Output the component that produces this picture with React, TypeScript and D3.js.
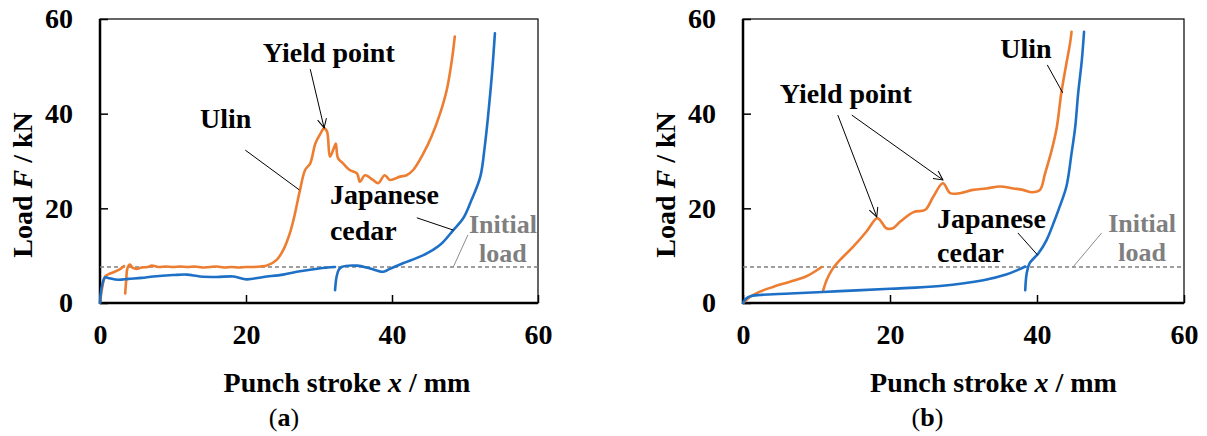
import { useEffect, useRef } from "react";
import * as d3 from "d3";

type Pt = [number, number];

const W = 1207;
const H = 436;
const FONT = '"Liberation Serif", "Times New Roman", serif';
const ORANGE = "#ED7D31";
const BLUE = "#1D70C6";
const GRAY = "#7F7F7F";

const xTicks = [0, 20, 40, 60];
const yTicks = [0, 20, 40, 60];
const initialLoad = 7.6;

// (a) Ulin, two segments (reloaded after the first stroke)
const ulinA1: Pt[] = [[0, 0], [0.3, 3.2], [0.7, 5.6], [1.2, 6.1], [2.0, 6.6], [2.7, 7.1], [3.3, 7.8]];
const ulinA2: Pt[] = [
	[3.45, 2.0], [3.6, 5.0], [3.75, 7.3], [4.1, 8.1], [4.5, 7.4], [5.0, 7.2], [5.7, 7.5], [6.5, 7.6],
	[7.1, 7.9], [8, 7.6], [9, 7.7], [10, 7.6], [11, 7.7], [12, 7.6], [13, 7.7], [14, 7.5], [15, 7.6],
	[16, 7.7], [17, 7.5], [18, 7.6], [19, 7.5], [20, 7.6], [21, 7.6], [22, 7.7], [23, 8.0],
	[24.2, 9.1], [25.2, 11.5], [26.0, 14.7], [26.5, 17.5], [26.9, 20.3], [27.4, 23.9], [28.1, 28.1],
	[28.8, 29.5], [29.5, 33.7], [30.1, 35.5], [30.7, 36.9], [31.1, 36.2], [31.5, 30.9], [32.1, 33.0],
	[32.3, 33.7], [32.6, 30.6], [33.3, 29.5], [34.2, 28.1], [35.2, 27.4], [35.6, 25.6], [36.3, 27.0],
	[37.4, 26.0], [38.1, 25.3], [39.0, 27.0], [39.7, 26.0], [41.1, 26.7], [42.0, 27.0], [42.9, 28.1],
	[44.3, 31.6], [45.4, 35.1], [46.6, 40.1], [47.5, 45.0], [48.2, 51.3], [48.6, 56.3],
];
// (a) Japanese cedar
const cedarA1: Pt[] = [
	[0, 0], [0.25, 3.5], [0.7, 5.4], [1.1, 5.3], [2.5, 4.9], [3.9, 5.1], [5.7, 5.3], [7.3, 5.6],
	[10.0, 5.9], [11.9, 6.0], [13.7, 5.6], [16.0, 5.5], [18.3, 5.6], [20.1, 5.0], [22.4, 5.5],
	[25.1, 6.0], [27.4, 6.7], [30, 7.3], [32.2, 7.6],
];
const cedarA2: Pt[] = [
	[32.2, 2.7], [32.4, 5.5], [32.7, 7.0], [33.1, 7.6], [35.2, 7.9], [37.0, 7.3], [38.8, 6.6],
	[39.7, 7.2], [41.5, 8.4], [44.3, 10.1], [46.6, 12.3], [48.4, 15.4], [49.8, 18.0], [50.9, 21.8],
	[52.1, 26.7], [52.7, 33.0], [53.2, 40.1], [53.7, 48.5], [54.1, 57.0],
];

// (b) Ulin
const ulinB1: Pt[] = [[0, 0], [0.95, 1.3], [2.3, 2.4], [4.1, 3.4], [6.4, 4.5], [8.7, 5.7], [10.7, 7.6]];
const ulinB2: Pt[] = [
	[10.9, 2.6], [11.4, 4.9], [12.1, 7.0], [13.2, 9.1], [15.0, 11.9], [16.8, 15.1], [18.2, 17.9],
	[18.6, 17.6], [19.5, 15.8], [20.4, 15.8], [21.4, 17.2], [23.2, 19.2], [24.8, 19.7], [25.9, 22.5],
	[27.2, 25.3], [28.2, 23.2], [29.5, 23.2], [31.3, 23.9], [33.1, 24.2], [35.0, 24.6], [36.8, 24.2],
	[38.1, 23.9], [39.3, 23.4], [40.4, 23.9], [41.1, 27.4], [42.0, 32.3], [42.7, 37.2], [43.3, 44.3],
	[44.0, 50.6], [44.5, 54.9], [44.7, 57.3],
];
// (b) Japanese cedar
const cedarB1: Pt[] = [
	[0, 0], [0.4, 0.9], [0.95, 1.4], [2.3, 1.7], [6.4, 2.0], [13.2, 2.5], [20.0, 3.0], [26.8, 3.6],
	[32.7, 4.8], [35.8, 6.0], [37.4, 7.0], [38.4, 7.7],
];
const cedarB2: Pt[] = [
	[38.4, 2.7], [38.6, 6.3], [39.0, 8.4], [40.2, 10.5], [41.3, 13.3], [42.4, 17.5], [43.0, 20.0],
	[44.0, 24.6], [44.7, 31.6], [45.2, 37.2], [45.6, 44.3], [46.1, 51.3], [46.4, 57.3],
];

type Label = { text: string; x: number; y: number; anchor?: string; gray?: boolean };
type Seg = { from: Pt; to: Pt; arrow?: boolean; gray?: boolean };

const labelsA: Label[] = [
	{ text: "Yield point", x: 22.3, y: 50.9 },
	{ text: "Ulin", x: 13.7, y: 37.0 },
	{ text: "Japanese", x: 31.5, y: 20.9 },
	{ text: "cedar", x: 31.5, y: 13.3 },
	{ text: "Initial", x: 55.2, y: 14.8, anchor: "middle", gray: true },
	{ text: "load", x: 55.2, y: 8.7, anchor: "middle", gray: true },
];
const leadersA: Seg[] = [
	{ from: [28.8, 49.4], to: [30.7, 37.0], arrow: true },
	{ from: [19.9, 32.3], to: [27.3, 23.9] },
	{ from: [43.4, 18.0], to: [48.4, 15.4] },
	{ from: [50.4, 14.4], to: [48.4, initialLoad], gray: true },
];
const labelsB: Label[] = [
	{ text: "Yield point", x: 5.0, y: 42.3 },
	{ text: "Ulin", x: 35.0, y: 51.8 },
	{ text: "Japanese", x: 26.4, y: 15.8 },
	{ text: "cedar", x: 26.4, y: 8.7 },
	{ text: "Initial", x: 54.3, y: 15.0, anchor: "middle", gray: true },
	{ text: "load", x: 54.3, y: 8.9, anchor: "middle", gray: true },
];
const leadersB: Seg[] = [
	{ from: [12.9, 39.7], to: [18.2, 18.2], arrow: true },
	{ from: [14.8, 39.7], to: [27.2, 26.0], arrow: true },
	{ from: [41.4, 50.3], to: [43.5, 44.4] },
	{ from: [37.4, 14.8], to: [40.1, 10.1] },
	{ from: [48.8, 14.8], to: [44.9, initialLoad], gray: true },
];

const top = 19;
const bottom = 303;

type PanelProps = {
	left: number;
	right: number;
	ulin: Pt[][];
	cedar: Pt[][];
	labels: Label[];
	leaders: Seg[];
	caption: string;
	titleDx: number;
	captionDx: number;
};

const Panel = ({ left, right, ulin, cedar, labels, leaders, caption, titleDx, captionDx }: PanelProps) => {
	const xAxisRef = useRef<SVGGElement>(null);
	const yAxisRef = useRef<SVGGElement>(null);

	const x = d3.scaleLinear().domain([0, 60]).range([left, right]);
	const y = d3.scaleLinear().domain([0, 60]).range([bottom, top]);
	const line = d3
		.line<Pt>()
		.x((d) => x(d[0]))
		.y((d) => y(d[1]))
		.curve(d3.curveCatmullRom.alpha(0.5));

	useEffect(() => {
		const xa = d3.select(xAxisRef.current!);
		xa.call(d3.axisBottom(x).tickValues(xTicks).tickSizeInner(-8).tickSizeOuter(0).tickPadding(21));
		const ya = d3.select(yAxisRef.current!);
		ya.call(d3.axisLeft(y).tickValues(yTicks).tickSizeInner(-8).tickSizeOuter(0).tickPadding(27));
		[xa, ya].forEach((g) => {
			g.select(".domain").remove();
			g.selectAll("line").attr("stroke", "#000").attr("stroke-width", 1.5);
			g.selectAll("text")
				.attr("font-family", FONT)
				.attr("font-size", 28)
				.attr("font-weight", "bold")
				.attr("fill", "#000");
		});
	}, [left, right]);

	const midX = (left + right) / 2 + titleDx;
	const midY = 185;

	return (
		<g>
			<rect x={left} y={top} width={right - left} height={bottom - top} fill="none" stroke="#000" strokeWidth={1.2} />
			<line x1={left} x2={left} y1={top} y2={bottom + 1} stroke="#000" strokeWidth={2.5} />
			<line x1={left} x2={right} y1={bottom} y2={bottom} stroke="#000" strokeWidth={2.5} />
			<g ref={xAxisRef} transform={`translate(0,${bottom})`} />
			<g ref={yAxisRef} transform={`translate(${left},0)`} />

			<line
				x1={x(0)}
				x2={x(60)}
				y1={y(initialLoad)}
				y2={y(initialLoad)}
				stroke={GRAY}
				strokeWidth={1.5}
				strokeDasharray="4,3"
			/>

			{ulin.map((seg, i) => (
				<path key={`u${i}`} d={line(seg) ?? ""} fill="none" stroke={ORANGE} strokeWidth={2.6} strokeLinejoin="round" strokeLinecap="round" />
			))}
			{cedar.map((seg, i) => (
				<path key={`c${i}`} d={line(seg) ?? ""} fill="none" stroke={BLUE} strokeWidth={2.6} strokeLinejoin="round" strokeLinecap="round" />
			))}

			{leaders.map((s, i) => (
				<line
					key={`l${i}`}
					x1={x(s.from[0])}
					y1={y(s.from[1])}
					x2={x(s.to[0])}
					y2={y(s.to[1])}
					stroke={s.gray ? "#8C8C8C" : "#000"}
					strokeWidth={1}
					markerEnd={s.arrow ? "url(#openArrow)" : undefined}
				/>
			))}

			{labels.map((l, i) => (
				<text
					key={`t${i}`}
					x={x(l.x)}
					y={y(l.y)}
					textAnchor={l.anchor ?? "start"}
					fontFamily={FONT}
					fontWeight="bold"
					fontSize={l.gray ? 26 : 28}
					fill={l.gray ? GRAY : "#000"}
				>
					{l.text}
				</text>
			))}

			<text
				transform={`translate(${left - 68},${midY}) rotate(-90)`}
				textAnchor="middle"
				fontFamily={FONT}
				fontWeight="bold"
				fontSize={28}
			>
				Load <tspan fontStyle="italic">F</tspan> / kN
			</text>
			<text x={midX} y={392} textAnchor="middle" fontFamily={FONT} fontWeight="bold" fontSize={28}>
				Punch stroke <tspan fontStyle="italic">x</tspan> / mm
			</text>
			<text x={(left + right) / 2 + captionDx} y={426} textAnchor="middle" fontFamily={FONT} fontSize={26}>
				(<tspan fontWeight="bold">{caption}</tspan>)
			</text>
		</g>
	);
};

export default function App() {
	return (
		<svg width={W} height={H} style={{ position: "absolute", left: 0, top: 0, background: "#fff" }}>
			<defs>
				<marker
					id="openArrow"
					viewBox="-10 -6 12 12"
					refX={0}
					refY={0}
					markerWidth={12}
					markerHeight={12}
					markerUnits="userSpaceOnUse"
					orient="auto"
				>
					<path d="M-9,-4.5 L0,0 L-9,4.5" fill="none" stroke="#000" strokeWidth={1} />
				</marker>
			</defs>
			<Panel left={100} right={538} ulin={[ulinA1, ulinA2]} cedar={[cedarA1, cedarA2]} labels={labelsA} leaders={leadersA} caption="a" titleDx={28} captionDx={-35} />
			<Panel left={743} right={1184} ulin={[ulinB1, ulinB2]} cedar={[cedarB1, cedarB2]} labels={labelsB} leaders={leadersB} caption="b" titleDx={30} captionDx={-36} />
		</svg>
	);
}
